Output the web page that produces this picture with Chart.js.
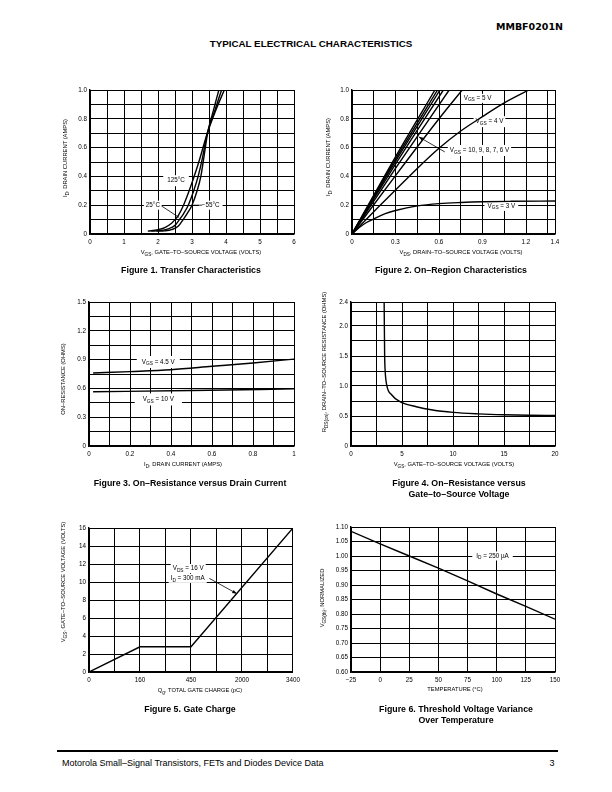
<!DOCTYPE html>
<html>
<head>
<meta charset="utf-8">
<script src="https://cdn.jsdelivr.net/npm/chart.js@4.4.0/dist/chart.umd.min.js"></script>
<style>
    body { margin: 0; width: 612px; height: 792px; background: #fff; position: relative; overflow: hidden;
           font-family: 'Liberation Sans', Arial, sans-serif; color: #000; }
    .t { position: absolute; white-space: nowrap; transform: translate(-50%, -50%); line-height: 1; }
    .ax { font-size: 5.8px; }
    .yt { transform: translate(-50%, -50%) rotate(-90deg); }
    .cap { font-size: 8.8px; font-weight: bold; }
    sub { font-size: 80%; vertical-align: -1.5px; line-height: 0; }
    canvas { position: absolute; }
    #rule { position: absolute; left: 57px; top: 750px; width: 501px; height: 1.6px; background: #000; }
</style>
</head>
<body>
<div class="t" style="left:auto;right:49px;top:27px;transform:translateY(-50%);font-family:'DejaVu Sans';font-weight:900;font-size:9.5px;">MMBF0201N</div>
<div class="t" style="left:311px;top:44px;font-weight:bold;font-size:9.8px;">TYPICAL ELECTRICAL CHARACTERISTICS</div>

<canvas id="fig1"></canvas>
<canvas id="fig2"></canvas>
<canvas id="fig3"></canvas>
<canvas id="fig4"></canvas>
<canvas id="fig5"></canvas>
<canvas id="fig6"></canvas>

<div class="t ax" style="left:201px;top:253px;">V<sub>GS</sub>, GATE–TO–SOURCE VOLTAGE (VOLTS)</div>
<div class="t ax yt" style="left:66px;top:158px;">I<sub>D</sub>, DRAIN CURRENT (AMPS)</div>
<div class="t cap" style="left:191px;top:270px;">Figure 1. Transfer Characteristics</div>

<div class="t ax" style="left:461px;top:253px;">V<sub>DS</sub>, DRAIN–TO–SOURCE VOLTAGE (VOLTS)</div>
<div class="t ax yt" style="left:329px;top:157px;">I<sub>D</sub>, DRAIN CURRENT (AMPS)</div>
<div class="t cap" style="left:451px;top:270px;">Figure 2. On–Region Characteristics</div>

<div class="t ax" style="left:183px;top:465px;">I<sub>D</sub>, DRAIN CURRENT (AMPS)</div>
<div class="t ax yt" style="left:64px;top:379px;">ON–RESISTANCE (OHMS)</div>
<div class="t cap" style="left:190px;top:483px;">Figure 3. On–Resistance versus Drain Current</div>

<div class="t ax" style="left:454px;top:465px;">V<sub>GS</sub>, GATE–TO–SOURCE VOLTAGE (VOLTS)</div>
<div class="t ax yt" style="left:325px;top:362px;">R<sub>DS(on)</sub>, DRAIN–TO–SOURCE RESISTANCE (OHMS)</div>
<div class="t cap" style="left:459px;top:483px;">Figure 4. On–Resistance versus</div>
<div class="t cap" style="left:459px;top:494px;">Gate–to–Source Voltage</div>

<div class="t ax" style="left:200px;top:691px;">Q<sub>g</sub>, TOTAL GATE CHARGE (pC)</div>
<div class="t ax yt" style="left:64px;top:582px;">V<sub>GS</sub>, GATE–TO–SOURCE VOLTAGE (VOLTS)</div>
<div class="t cap" style="left:190px;top:709px;">Figure 5. Gate Charge</div>

<div class="t ax" style="left:455px;top:690px;">TEMPERATURE (°C)</div>
<div class="t ax yt" style="left:323px;top:598px;">V<sub>GS(th)</sub>, NORMALIZED</div>
<div class="t cap" style="left:456px;top:709px;">Figure 6. Threshold Voltage Variance</div>
<div class="t cap" style="left:456px;top:720px;">Over Temperature</div>

<div id="rule"></div>
<div class="t" style="left:62px;top:763px;transform:translateY(-50%);font-size:9px;">Motorola Small–Signal Transistors, FETs and Diodes Device Data</div>
<div class="t" style="left:552px;top:763px;font-size:9px;">3</div>

<script>
// --- DATA ---
// Figure 1: transfer characteristics, VGS (V) vs ID (A)
const fig1Vgs125 = [1.7, 2.0, 2.2, 2.4, 2.5, 2.6, 2.75, 2.9, 3.05, 3.2, 3.45, 3.7, 3.95];
const fig1Id125  = [0.02, 0.03, 0.045, 0.075, 0.1, 0.13, 0.2, 0.29, 0.39, 0.5, 0.7, 0.86, 1.0];
const fig1Vgs25  = [1.8, 2.1, 2.3, 2.5, 2.63, 2.75, 2.89, 3.05, 3.18, 3.3, 3.45, 3.66, 3.87];
const fig1Id25   = [0.02, 0.025, 0.035, 0.06, 0.1, 0.14, 0.2, 0.3, 0.4, 0.52, 0.7, 0.85, 1.0];
const fig1VgsM55 = [1.95, 2.2, 2.4, 2.6, 2.74, 2.88, 3.0, 3.15, 3.26, 3.36, 3.46, 3.62, 3.79];
const fig1IdM55  = [0.02, 0.022, 0.03, 0.055, 0.1, 0.15, 0.2, 0.3, 0.4, 0.55, 0.7, 0.85, 1.0];
const fig1XTicks = [0, 1, 2, 3, 4, 5, 6];
const fig1YTicks = [0, 0.2, 0.4, 0.6, 0.8, 1.0];

// Figure 2: on-region characteristics, VDS (V) vs ID (A)
const fig2Vds10 = [0, 0.3, 0.572];  const fig2Id10 = [0, 0.535, 1.0];
const fig2Vds9  = [0, 0.3, 0.59];   const fig2Id9  = [0, 0.52, 1.0];
const fig2Vds8  = [0, 0.3, 0.607];  const fig2Id8  = [0, 0.505, 1.0];
const fig2Vds7  = [0, 0.3, 0.63];   const fig2Id7  = [0, 0.485, 1.0];
const fig2Vds6  = [0, 0.3, 0.67];   const fig2Id6  = [0, 0.455, 1.0];
const fig2Vds5  = [0, 0.3, 0.6, 0.76];  const fig2Id5 = [0, 0.405, 0.8, 1.0];
const fig2Vds4  = [0, 0.15, 0.3, 0.45, 0.6, 0.75, 0.9, 1.05, 1.22];
const fig2Id4   = [0, 0.155, 0.305, 0.455, 0.595, 0.715, 0.815, 0.91, 1.0];
const fig2Vds3  = [0, 0.05, 0.1, 0.15, 0.225, 0.3, 0.45, 0.6, 0.75, 0.9, 1.1, 1.4];
const fig2Id3   = [0, 0.045, 0.08, 0.105, 0.14, 0.163, 0.195, 0.211, 0.219, 0.224, 0.227, 0.229];
const fig2XTicks = [0, 0.3, 0.6, 0.9, 1.2, 1.4];
const fig2YTicks = [0, 0.2, 0.4, 0.6, 0.8, 1.0];

// Figure 3: on-resistance vs drain current, ID (A) vs R (ohms)
const fig3Id45 = [0.02, 0.2, 0.4, 0.6, 0.8, 1.0];
const fig3R45  = [0.76, 0.775, 0.795, 0.83, 0.865, 0.905];
const fig3Id10 = [0.02, 0.5, 1.0];
const fig3R10  = [0.565, 0.578, 0.595];
const fig3XTicks = [0, 0.2, 0.4, 0.6, 0.8, 1];
const fig3YTicks = [0, 0.3, 0.6, 0.9, 1.2, 1.5];

// Figure 4: on-resistance vs VGS, VGS (V) vs RDS(on) (ohms)
const fig4Vgs = [3.25, 3.27, 3.3, 3.35, 3.5, 4.0, 4.8, 6.4, 8, 10, 12.5, 15, 17.5, 20];
const fig4R   = [2.4, 2.0, 1.5, 1.25, 1.02, 0.85, 0.74, 0.655, 0.6, 0.56, 0.535, 0.52, 0.512, 0.508];
const fig4XTicks = [0, 5, 10, 15, 20];
const fig4YTicks = [0, 0.5, 1.0, 1.5, 2.0, 2.4];

// Figure 5: gate charge, Qg (pC) vs VGS (V)
const fig5Qg  = [0, 160, 450, 3400];
const fig5Vgs = [0, 2.8, 2.8, 16];
const fig5XTicks = [0, 160, 450, 2000, 3400];   // evenly spaced on the axis
const fig5YTicks = [0, 2, 4, 6, 8, 10, 12, 14, 16];

// Figure 6: threshold voltage vs temperature
const fig6Temp = [-25, 0, 25, 50, 75, 100, 125, 150];
const fig6Vth  = [1.085, 1.042, 1.0, 0.958, 0.914, 0.869, 0.826, 0.782];
const fig6XTicks = [-25, 0, 25, 50, 75, 100, 125, 150];
const fig6YTicks = [0.60, 0.65, 0.70, 0.75, 0.80, 0.85, 0.90, 0.95, 1.00, 1.05, 1.10];

// --- HELPERS ---
const FONT = "'Liberation Sans', Arial, sans-serif";

function gridValues(min, max, step) {
    const out = [];
    for (let i = 0; min + i * step < max - step * 0.01; i++) out.push(+(min + i * step).toFixed(6));
    out.push(max);
    return out;
}

function axis(min, max, step, labelVals, fmt, isY, labelPos) {
    const grid = gridValues(min, max, step);
    const pos = labelPos || labelVals;
    return {
        type: 'linear', min, max,
        afterBuildTicks: s => { s.ticks = grid.map(v => ({ value: v })); },
        afterFit: s => { if (isY) s.width = 30; else s.height = 16; },
        ticks: {
            autoSkip: false, maxRotation: 0, minRotation: 0, color: '#000', padding: isY ? 3 : 4,
            font: { family: FONT, size: 6.3 },
            callback: v => {
                const i = pos.findIndex(p => Math.abs(p - v) < step * 0.01);
                return i < 0 ? '' : fmt(labelVals[i]);
            }
        },
        grid: { color: '#000', lineWidth: 1, drawTicks: false },
        border: { color: '#000', width: 1.4 }
    };
}

const fmt1 = v => v === 0 ? '0' : v.toFixed(1);
const fmtInt = v => v < 0 ? '−' + (-v) : String(v);

function series(xs, ys, smooth) {
    return {
        data: xs.map((x, i) => ({ x, y: ys[i] })),
        borderColor: '#000', borderWidth: 1.4, pointRadius: 0, fill: false,
        tension: 0, cubicInterpolationMode: smooth ? 'monotone' : 'default'
    };
}

function drawRich(ctx, parts, cx, cy, pad, boxH) {
    const base = '6.3px ' + FONT, small = '4.8px ' + FONT;
    let w = 0;
    parts.forEach(p => { ctx.font = p[1] ? small : base; w += ctx.measureText(p[0]).width; });
    ctx.fillStyle = '#fff';
    ctx.fillRect(cx - w / 2 - pad, cy - boxH / 2, w + pad * 2, boxH);
    ctx.fillStyle = '#000';
    ctx.textBaseline = 'middle';
    ctx.textAlign = 'left';
    let x = cx - w / 2;
    parts.forEach(p => {
        ctx.font = p[1] ? small : base;
        ctx.fillText(p[0], x, cy + (p[1] ? 1.8 : 0));
        x += ctx.measureText(p[0]).width;
    });
}

const notePlugin = {
    id: 'notes',
    beforeDatasetsDraw(chart, args, opts) {
        const { ctx, scales: { x, y } } = chart;
        ctx.save();
        (opts.labels || []).forEach(l => drawRich(ctx, l.parts, x.getPixelForValue(l.x), y.getPixelForValue(l.y), l.pad || 4, l.h || 9));
        ctx.restore();
    },
    afterDatasetsDraw(chart, args, opts) {
        const { ctx, scales: { x, y } } = chart;
        ctx.save();
        ctx.strokeStyle = '#000';
        ctx.fillStyle = '#000';
        ctx.lineWidth = 0.8;
        (opts.lines || []).forEach(l => {
            const x1 = x.getPixelForValue(l.x1), y1 = y.getPixelForValue(l.y1);
            const x2 = x.getPixelForValue(l.x2), y2 = y.getPixelForValue(l.y2);
            ctx.beginPath(); ctx.moveTo(x1, y1); ctx.lineTo(x2, y2); ctx.stroke();
            if (l.arrow) {
                const a = Math.atan2(y2 - y1, x2 - x1), L = 5, W = 0.35;
                ctx.beginPath();
                ctx.moveTo(x2, y2);
                ctx.lineTo(x2 - L * Math.cos(a - W), y2 - L * Math.sin(a - W));
                ctx.lineTo(x2 - L * Math.cos(a + W), y2 - L * Math.sin(a + W));
                ctx.closePath(); ctx.fill();
            }
        });
        ctx.restore();
    }
};

function makeChart(id, rect, datasets, xAxis, yAxis, notes) {
    const cv = document.getElementById(id);
    const [L, T, R, B] = rect;
    const w = R - L + 40, h = B - T + 24;
    cv.width = w; cv.height = h;
    cv.style.left = (L - 30) + 'px'; cv.style.top = (T - 8) + 'px';
    cv.style.width = w + 'px'; cv.style.height = h + 'px';
    return new Chart(cv.getContext('2d'), {
        type: 'line',
        data: { datasets },
        options: {
            responsive: false, animation: false, devicePixelRatio: 1,
            layout: { padding: { top: 8, right: 10, left: 0, bottom: 0 } },
            scales: { x: xAxis, y: yAxis },
            plugins: { legend: { display: false }, tooltip: { enabled: false }, notes: notes || {} }
        },
        plugins: [notePlugin]
    });
}

// --- CHARTS ---
makeChart('fig1', [90, 90, 294, 234],
    [series(fig1Vgs125, fig1Id125, true), series(fig1Vgs25, fig1Id25, true), series(fig1VgsM55, fig1IdM55, true)],
    axis(0, 6, 0.5, fig1XTicks, fmtInt, false),
    axis(0, 1, 0.1, fig1YTicks, fmt1, true),
    {
        labels: [
            { x: 2.53, y: 0.37, parts: [['125°C']], h: 11 },
            { x: 1.85, y: 0.2, parts: [['25°C']], pad: 2 },
            { x: 3.55, y: 0.2, parts: [['−55°C']], pad: 3 }
        ],
        lines: [
            { x1: 2.1, y1: 0.195, x2: 2.62, y2: 0.115 },
            { x1: 3.3, y1: 0.2, x2: 3.02, y2: 0.2 }
        ]
    });

makeChart('fig2', [352, 90, 555, 234],
    [series(fig2Vds10, fig2Id10, true), series(fig2Vds9, fig2Id9, true), series(fig2Vds8, fig2Id8, true),
     series(fig2Vds7, fig2Id7, true), series(fig2Vds6, fig2Id6, true), series(fig2Vds5, fig2Id5, true),
     series(fig2Vds4, fig2Id4, true), series(fig2Vds3, fig2Id3, true)],
    axis(0, 1.4, 0.15, fig2XTicks, v => v === 0 ? '0' : String(v), false),
    axis(0, 1, 0.1, fig2YTicks, fmt1, true),
    {
        labels: [
            { x: 0.866, y: 0.942, parts: [['V'], ['GS', 1], [' = 5 V']], pad: 2 },
            { x: 0.948, y: 0.78, parts: [['V'], ['GS', 1], [' = 4 V']], pad: 2, h: 11 },
            { x: 0.879, y: 0.58, parts: [['V'], ['GS', 1], [' = 10, 9, 8, 7, 6 V']], pad: 2, h: 11 },
            { x: 1.03, y: 0.195, parts: [['V'], ['GS', 1], [' = 3 V']], pad: 3, h: 10 }
        ],
        lines: [{ x1: 0.64, y1: 0.57, x2: 0.46, y2: 0.675, arrow: true }]
    });

makeChart('fig3', [89, 302, 294, 446],
    [series(fig3Id45, fig3R45, true), series(fig3Id10, fig3R10, true)],
    axis(0, 1, 0.1, fig3XTicks, v => v === 0 || v === 1 ? String(v) : v.toFixed(1), false),
    axis(0, 1.5, 0.15, fig3YTicks, fmt1, true),
    {
        labels: [
            { x: 0.338, y: 0.875, parts: [['V'], ['GS', 1], [' = 4.5 V']], pad: 5, h: 12 },
            { x: 0.338, y: 0.485, parts: [['V'], ['GS', 1], [' = 10 V']], pad: 8, h: 12 }
        ]
    });

makeChart('fig4', [351, 302, 555, 446],
    [series(fig4Vgs, fig4R, true)],
    axis(0, 20, 2.5, fig4XTicks, fmtInt, false),
    axis(0, 2.4, 0.25, fig4YTicks, fmt1, true));

// position of a gate-charge value on the evenly spaced Qg axis
const qgPos = q => {
    for (let i = 1; i < fig5XTicks.length; i++) {
        if (q <= fig5XTicks[i]) return (i - 1 + (q - fig5XTicks[i - 1]) / (fig5XTicks[i] - fig5XTicks[i - 1])) * 2;
    }
    return (fig5XTicks.length - 1) * 2;
};
makeChart('fig5', [89, 528, 294, 672],
    [series(fig5Qg.map(qgPos), fig5Vgs, false)],
    axis(0, 8, 1, fig5XTicks, String, false, fig5XTicks.map((v, i) => i * 2)),
    axis(0, 16, 2, fig5YTicks, String, true),
    {
        labels: [
            { x: 3.89, y: 11.5, parts: [['V'], ['DS', 1], [' = 16 V']], pad: 2 },
            { x: 3.87, y: 10.4, parts: [['I'], ['D', 1], [' = 300 mA']], pad: 2 }
        ],
        lines: [{ x1: 4.72, y1: 10.4, x2: 5.8, y2: 8.7, arrow: true }]
    });

makeChart('fig6', [351, 527, 555, 672],
    [series(fig6Temp, fig6Vth, false)],
    axis(-25, 150, 25, fig6XTicks, fmtInt, false),
    axis(0.6, 1.1, 0.05, fig6YTicks, v => v.toFixed(2), true),
    {
        labels: [{ x: 96.4, y: 1.0, parts: [['I'], ['D', 1], [' = 250 µA']], pad: 4 }]
    });
</script>
</body>
</html>
